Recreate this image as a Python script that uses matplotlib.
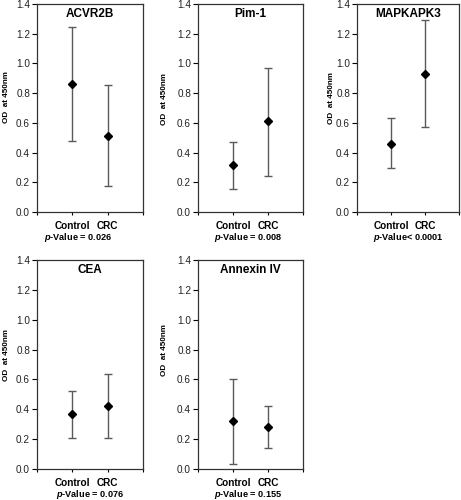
import matplotlib
matplotlib.use('Agg')
import matplotlib.pyplot as plt

plt.rcParams['font.family'] = ['Liberation Sans', 'DejaVu Sans']
plt.rcParams['mathtext.fontset'] = 'custom'
plt.rcParams['mathtext.it'] = 'Liberation Sans:italic:bold'
plt.rcParams['mathtext.rm'] = 'Liberation Sans:bold'

# data
genes = ['ACVR2B', 'Pim-1', 'MAPKAPK3', 'CEA', 'Annexin IV']
groups = ['Control', 'CRC']
ctrl_mean = [0.86, 0.315, 0.46, 0.37, 0.32]
ctrl_lo = [0.48, 0.153, 0.295, 0.21, 0.035]
ctrl_hi = [1.245, 0.472, 0.635, 0.525, 0.60]
crc_mean = [0.51, 0.61, 0.93, 0.42, 0.28]
crc_lo = [0.175, 0.245, 0.57, 0.205, 0.14]
crc_hi = [0.855, 0.97, 1.29, 0.635, 0.42]
p_text = [' = 0.026', ' = 0.008', '< 0.0001', ' = 0.076', ' = 0.155']
yticks = [0.0, 0.2, 0.4, 0.6, 0.8, 1.0, 1.2, 1.4]

W, H = 461, 500
fig = plt.figure(figsize=(W / 100, H / 100), dpi=100)

# axes boxes in pixels: left, right, top, bottom
boxes = [(37, 143, 4, 212), (198, 303, 4, 212), (357, 459, 4, 212),
         (37, 143, 260, 469), (198, 303, 260, 469)]
# y label centres in pixels
ylab_pos = [(7, 97), (164, 99), (331, 98), (7, 355), (164, 350)]
p_x = [0.39, 0.48, 0.5, 0.5, 0.48]

for i, gene in enumerate(genes):
    l, r, t, b = boxes[i]
    ax = fig.add_axes([l / W, 1 - b / H, (r - l) / W, (b - t) / H])
    x = [1, 2]
    means = [ctrl_mean[i], crc_mean[i]]
    lo = [ctrl_mean[i] - ctrl_lo[i], crc_mean[i] - crc_lo[i]]
    hi = [ctrl_hi[i] - ctrl_mean[i], crc_hi[i] - crc_mean[i]]
    ax.errorbar(x, means, yerr=[lo, hi], fmt='none', ecolor='#5a5a5a',
                elinewidth=1.0, capsize=2.6, capthick=1.0, zorder=2)
    ax.plot(x, means, 'D', color='black', ms=4, zorder=3)

    ax.set_xlim(0, 3)
    ax.set_ylim(0, 1.4)
    ax.set_yticks(yticks)
    ax.set_yticklabels(['%.1f' % v for v in yticks], fontsize=7.2, color='#222222')
    ax.set_xticks([0, 1, 2, 3])
    ax.set_xticklabels([''] + groups + [''], fontsize=7.2, fontweight='bold')
    ax.tick_params(axis='y', direction='out', length=3.5, width=0.8, pad=1.5)
    ax.tick_params(axis='x', direction='out', length=2.5, width=0.8, pad=4)
    for s in ax.spines.values():
        s.set_linewidth(0.9)
        s.set_color('#333333')

    ax.text(0.5, 1 - 4 / (b - t), gene, transform=ax.transAxes, ha='center',
            va='top', fontsize=8.5, fontweight='bold')
    yx, yy = ylab_pos[i]
    fig.text(yx / W, 1 - yy / H, 'OD  at 450nm', rotation=90, ha='center',
             va='center', fontsize=5.9, fontweight='bold')
    ax.annotate('$p$-Value' + p_text[i], xy=(p_x[i], 0), xycoords='axes fraction',
                xytext=(0, -18.5), textcoords='offset points', ha='center',
                va='center', fontsize=6.6, fontweight='bold')

fig.savefig('out.png', dpi=100)
